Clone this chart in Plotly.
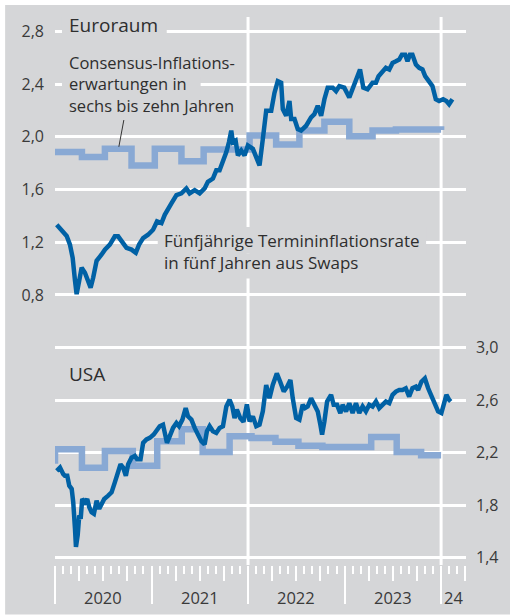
import plotly.graph_objects as go

# ---------------- data (decimal years, %) ----------------
ea_swap_t = [2020.018, 2020.069, 2020.121, 2020.155, 2020.183, 2020.207, 2020.224, 2020.251, 2020.276, 2020.310,
             2020.344, 2020.369, 2020.396, 2020.431, 2020.483, 2020.517, 2020.568, 2020.620, 2020.654, 2020.689,
             2020.741, 2020.793, 2020.837, 2020.871, 2020.913, 2020.964, 2021.016, 2021.057, 2021.103, 2021.137,
             2021.171, 2021.206, 2021.258, 2021.310, 2021.361, 2021.395, 2021.447, 2021.499, 2021.550, 2021.584,
             2021.636, 2021.671, 2021.705, 2021.740, 2021.775, 2021.802, 2021.826, 2021.843, 2021.871, 2021.895,
             2021.930, 2021.964, 2021.998, 2022.050, 2022.085, 2022.119, 2022.153, 2022.188, 2022.240, 2022.274,
             2022.308, 2022.343, 2022.360, 2022.395, 2022.429, 2022.447, 2022.481, 2022.515, 2022.550, 2022.602,
             2022.653, 2022.687, 2022.722, 2022.757, 2022.791, 2022.825, 2022.877, 2022.912, 2022.946, 2022.997,
             2023.049, 2023.083, 2023.118, 2023.160, 2023.194, 2023.238, 2023.290, 2023.325, 2023.352, 2023.393,
             2023.428, 2023.463, 2023.497, 2023.532, 2023.566, 2023.594, 2023.628, 2023.652, 2023.677, 2023.703,
             2023.739, 2023.773, 2023.807, 2023.835, 2023.876, 2023.910, 2023.945, 2023.979, 2024.021, 2024.055,
             2024.083, 2024.117]
ea_swap_v = [1.332, 1.285, 1.247, 1.182, 1.082, 0.909, 0.806, 0.909, 1.007, 0.969,
             0.894, 0.856, 0.932, 1.059, 1.107, 1.144, 1.182, 1.245, 1.245, 1.208,
             1.157, 1.144, 1.120, 1.182, 1.232, 1.257, 1.295, 1.358, 1.345, 1.408,
             1.445, 1.495, 1.558, 1.571, 1.608, 1.571, 1.595, 1.571, 1.608, 1.659,
             1.683, 1.746, 1.746, 1.809, 1.884, 1.959, 2.047, 1.959, 1.971, 1.859,
             1.896, 1.859, 1.934, 1.909, 1.834, 1.783, 1.984, 2.197, 2.197, 2.335,
             2.423, 2.411, 2.210, 2.159, 2.272, 2.135, 2.135, 2.059, 2.047, 2.084,
             2.147, 2.172, 2.235, 2.159, 2.285, 2.373, 2.373, 2.347, 2.385, 2.373,
             2.298, 2.360, 2.435, 2.511, 2.373, 2.360, 2.411, 2.411, 2.460, 2.498,
             2.523, 2.511, 2.561, 2.573, 2.586, 2.623, 2.623, 2.573, 2.623, 2.623,
             2.548, 2.523, 2.511, 2.460, 2.423, 2.385, 2.285, 2.272, 2.285, 2.272,
             2.247, 2.285]

ea_cons_t = [2020.0, 2020.279, 2020.517, 2020.793, 2021.034, 2021.310, 2021.540, 2022.016,
             2022.291, 2022.532, 2022.791, 2023.049, 2023.290, 2023.532, 2024.0]
ea_cons_v = [1.884, 1.847, 1.909, 1.783, 1.909, 1.814, 1.904, 2.009,
             1.942, 2.047, 2.114, 2.005, 2.047, 2.055, 2.052]

us_swap_t = [2020.018, 2020.052, 2020.086, 2020.103, 2020.127, 2020.148, 2020.173, 2020.189, 2020.207, 2020.217,
             2020.235, 2020.251, 2020.266, 2020.282, 2020.310, 2020.334, 2020.355, 2020.379, 2020.403, 2020.431,
             2020.458, 2020.483, 2020.510, 2020.551, 2020.586, 2020.620, 2020.654, 2020.679, 2020.706, 2020.734,
             2020.758, 2020.793, 2020.827, 2020.851, 2020.886, 2020.913, 2020.948, 2020.982, 2021.023, 2021.051,
             2021.085, 2021.119, 2021.137, 2021.160, 2021.189, 2021.223, 2021.258, 2021.285, 2021.320, 2021.354,
             2021.378, 2021.413, 2021.447, 2021.481, 2021.516, 2021.550, 2021.574, 2021.602, 2021.636, 2021.671,
             2021.705, 2021.740, 2021.775, 2021.809, 2021.837, 2021.860, 2021.884, 2021.919, 2021.953, 2021.988,
             2022.016, 2022.050, 2022.085, 2022.119, 2022.153, 2022.188, 2022.222, 2022.256, 2022.298, 2022.333,
             2022.370, 2022.405, 2022.439, 2022.463, 2022.498, 2022.532, 2022.566, 2022.591, 2022.618, 2022.653,
             2022.687, 2022.722, 2022.749, 2022.767, 2022.791, 2022.819, 2022.860, 2022.887, 2022.922, 2022.956,
             2022.980, 2023.015, 2023.049, 2023.083, 2023.118, 2023.152, 2023.187, 2023.221, 2023.256, 2023.290,
             2023.325, 2023.359, 2023.393, 2023.428, 2023.463, 2023.497, 2023.532, 2023.566, 2023.600, 2023.634,
             2023.669, 2023.703, 2023.739, 2023.762, 2023.796, 2023.832, 2023.866, 2023.900, 2023.935, 2023.969,
             2024.003, 2024.031, 2024.055, 2024.083, 2024.100]
us_swap_v = [2.062, 2.087, 2.037, 2.024, 2.024, 1.949, 1.924, 1.823, 1.622, 1.483,
             1.571, 1.722, 1.697, 1.848, 1.823, 1.848, 1.785, 1.747, 1.735, 1.835,
             1.773, 1.811, 1.848, 1.873, 1.898, 1.974, 2.049, 2.112, 2.087, 2.024,
             2.112, 2.162, 2.175, 2.150, 2.150, 2.275, 2.301, 2.313, 2.339, 2.364,
             2.402, 2.414, 2.364, 2.275, 2.326, 2.389, 2.426, 2.402, 2.452, 2.540,
             2.477, 2.452, 2.389, 2.339, 2.288, 2.263, 2.364, 2.402, 2.364, 2.351,
             2.389, 2.402, 2.552, 2.603, 2.552, 2.464, 2.528, 2.464, 2.435, 2.568,
             2.439, 2.477, 2.402, 2.414, 2.515, 2.716, 2.615, 2.716, 2.804, 2.741,
             2.666, 2.703, 2.754, 2.615, 2.464, 2.452, 2.565, 2.540, 2.552, 2.615,
             2.565, 2.515, 2.414, 2.339, 2.439, 2.590, 2.641, 2.565, 2.565, 2.502,
             2.565, 2.515, 2.577, 2.502, 2.577, 2.502, 2.552, 2.515, 2.565, 2.552,
             2.590, 2.540, 2.565, 2.590, 2.577, 2.641, 2.666, 2.678, 2.678, 2.691,
             2.628, 2.691, 2.703, 2.678, 2.741, 2.766, 2.691, 2.628, 2.577, 2.515,
             2.502, 2.577, 2.641, 2.603, 2.590]

us_cons_t = [2019.95, 2020.0, 2020.279, 2020.517, 2020.806, 2021.059, 2021.313, 2021.530, 2021.809,
             2022.036, 2022.284, 2022.522, 2022.770, 2023.276, 2023.540, 2023.793, 2024.0]
us_cons_v = [2.14, 2.226, 2.085, 2.213, 2.100, 2.288, 2.379, 2.205, 2.326,
             2.313, 2.284, 2.254, 2.244, 2.320, 2.206, 2.180, 2.180]

ea_tickvals = [0.8, 1.2, 1.6, 2.0, 2.4, 2.8]
ea_ticktext = ["0,8", "1,2", "1,6", "2,0", "2,4", "2,8"]
us_tickvals = [1.4, 1.8, 2.2, 2.6, 3.0]
us_ticktext = ["1,4", "1,8", "2,2", "2,6", "3,0"]
year_pos = [2020.5, 2021.5, 2022.5, 2023.5, 2024.13]
year_labels = ["2020", "2021", "2022", "2023", "24"]
divider_years = [2022, 2024]

assert len(ea_swap_t) == len(ea_swap_v)
assert len(us_swap_t) == len(us_swap_v)
assert len(ea_cons_t) == len(ea_cons_v)
assert len(us_cons_t) == len(us_cons_v)

# ---------------- styling ----------------
W, H = 510, 615
L, R, T, B = 55, 43, 17, 45
PW, PH = W - L - R, H - T - B
BG = "#d5d6d8"
DARK = "#0061a5"
LIGHT = "#89a9d4"
TXT = "#2e2e2e"
FONT = "Open Sans"


def pxx(x):
    return (x - L) / PW


def pxy(y):
    return (H - B - y) / PH


XR = [2020.0, 2024.258]

fig = go.Figure()
fig.add_trace(go.Scatter(x=ea_cons_t, y=ea_cons_v, mode="lines", line=dict(color=LIGHT, width=6.5, shape="hv"),
                         xaxis="x", yaxis="y", hoverinfo="skip", showlegend=False))
fig.add_trace(go.Scatter(x=ea_swap_t, y=ea_swap_v, mode="lines", line=dict(color=DARK, width=4.5),
                         xaxis="x", yaxis="y", showlegend=False))
fig.add_trace(go.Scatter(x=us_cons_t, y=us_cons_v, mode="lines", line=dict(color=LIGHT, width=6.5, shape="hv"),
                         xaxis="x2", yaxis="y2", hoverinfo="skip", showlegend=False))
fig.add_trace(go.Scatter(x=us_swap_t, y=us_swap_v, mode="lines", line=dict(color=DARK, width=4.5),
                         xaxis="x2", yaxis="y2", showlegend=False))

tickfont = dict(family=FONT, size=16, color="#3a3a3a")

fig.update_layout(
    width=W, height=H,
    margin=dict(l=L, r=R, t=T, b=B, pad=0),
    paper_bgcolor="white",
    plot_bgcolor=BG,
    showlegend=False,
    font=dict(family=FONT, color=TXT),
    xaxis=dict(range=XR, domain=[0, 1], anchor="y2", showgrid=False, zeroline=False, showline=False,
               tick0=2020, dtick=1, ticks="outside", ticklen=38, tickwidth=2, tickcolor="white",
               showticklabels=False,
               minor=dict(tick0=2020, dtick=1 / 12, ticks="outside", ticklen=8, tickwidth=2,
                          tickcolor="white", showgrid=False)),
    xaxis2=dict(range=XR, overlaying="x", anchor="y2", showgrid=False, zeroline=False, showline=False,
                tick0=2020, dtick=0.25, ticks="outside", ticklen=15, tickwidth=2, tickcolor="white",
                showticklabels=False),
    yaxis=dict(domain=[pxy(310), 1.0], range=[0.706, 2.909], anchor="x", side="left",
               tickvals=ea_tickvals, ticktext=ea_ticktext, tickfont=tickfont,
               showgrid=True, gridcolor="white", gridwidth=2.5, zeroline=False, showline=False,
               ticks="", ticklabelstandoff=10),
    yaxis2=dict(domain=[0.0, pxy(325)], range=[1.345, 3.194], anchor="x", side="right",
                tickvals=us_tickvals, ticktext=us_ticktext, tickfont=tickfont,
                showgrid=True, gridcolor="white", gridwidth=2.5, zeroline=False, showline=False,
                ticks="", ticklabelstandoff=9),
)

shapes = [dict(type="rect", xref="paper", yref="paper", x0=pxx(5), x1=pxx(515), y0=pxy(620), y1=pxy(5),
               fillcolor=BG, line=dict(width=0), layer="below")]
for yr in divider_years:
    shapes.append(dict(type="line", xref="x", yref="paper", x0=yr, x1=yr, y0=0, y1=1,
                       line=dict(color="white", width=3), layer="below"))

# background patches behind the labels (they interrupt grid lines, as in the original)
for (x0, y0, x1, y1) in [(62, 17, 167, 35), (62, 77, 201, 93), (158, 229, 427, 256), (158, 256, 368, 281)]:
    shapes.append(dict(type="rect", xref="paper", yref="paper", x0=pxx(x0), x1=pxx(x1), y0=pxy(y1), y1=pxy(y0),
                       fillcolor=BG, line=dict(width=0), layer="above"))

# pointer from label to consensus line
shapes.append(dict(type="line", xref="paper", yref="paper", x0=pxx(124), y0=pxy(121), x1=pxx(119), y1=pxy(148),
                   line=dict(color="#333333", width=1), layer="above"))
fig.update_layout(shapes=shapes)

ann = []


def label(text, x, y, size):
    ann.append(dict(text=text, xref="paper", yref="paper", x=pxx(x), y=pxy(y), xanchor="left",
                    yanchor="middle", align="left", showarrow=False, borderpad=0,
                    font=dict(family=FONT, size=size, color=TXT)))


label("Euroraum", 68, 25.5, 19)
label("Consensus-Inflations-<br>erwartungen in<br>sechs bis zehn Jahren", 68, 85, 16.5)
label("Fünfjährige Termininflationsrate<br>in fünf Jahren aus Swaps", 163, 254, 17)
label("USA", 68, 377, 19)

for pos, txt in zip(year_pos, year_labels):
    ann.append(dict(text=txt, xref="x", yref="paper", x=pos, y=pxy(603), xanchor="center", yanchor="middle",
                    showarrow=False, font=dict(family=FONT, size=16.5, color="#3a3a3a")))

fig.update_layout(annotations=ann)
fig.write_html("out.html", config={"displayModeBar": False},
               post_script="document.body.style.margin='0';document.body.style.overflow='hidden';")
